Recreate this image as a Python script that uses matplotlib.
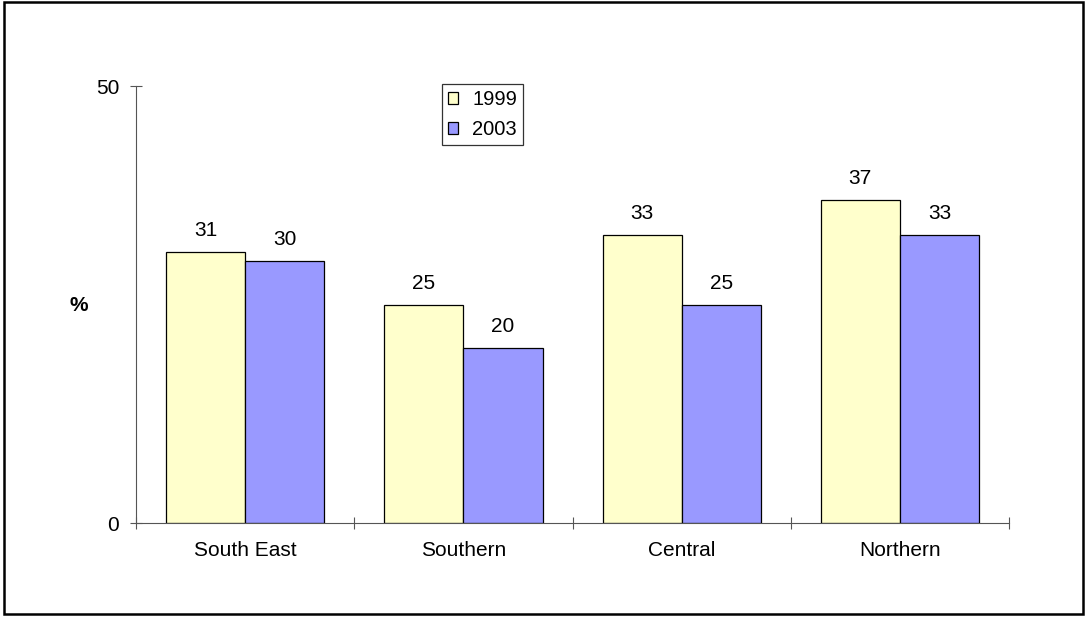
import matplotlib.pyplot as plt
from matplotlib.patches import Rectangle
import numpy as np

plt.rcParams['font.family'] = ['Liberation Sans', 'DejaVu Sans']

regions = ['South East', 'Southern', 'Central', 'Northern']
years = ['1999', '2003']
vals_1999 = [31, 25, 33, 37]
vals_2003 = [30, 20, 25, 33]

FS = 15

fig = plt.figure(figsize=(10.9, 6.18), dpi=100)
# outer frame round the whole chart
fig.patches.append(Rectangle((0.004, 0.006), 0.99, 0.99, transform=fig.transFigure,
                             fill=False, edgecolor='black', linewidth=1.8))

ax = fig.add_axes([0.1248, 0.1537, 0.8009, 0.7071])
x = np.arange(len(regions))
w = 0.3625
b1 = ax.bar(x - w/2, vals_1999, w, color='#FFFFCC', edgecolor='black', linewidth=0.9, label=years[0])
b2 = ax.bar(x + w/2, vals_2003, w, color='#9999FF', edgecolor='black', linewidth=0.9, label=years[1])

for bars, vals in ((b1, vals_1999), (b2, vals_2003)):
    for r, v in zip(bars, vals):
        ax.annotate(str(v), (r.get_x() + r.get_width()/2, v), xytext=(0, 8.5),
                    textcoords='offset points', ha='center', va='bottom', fontsize=FS)

ax.set_xlim(-0.5, 3.5)
ax.set_ylim(0, 50)
ax.set_yticks([0, 50])
ax.set_xticks(np.arange(-0.5, 4, 1), minor=False)
ax.set_xticklabels([])
ax.set_xticks(x, minor=True)
ax.set_xticklabels(regions, minor=True, fontsize=FS)
ax.tick_params(axis='x', which='minor', length=0, pad=13)
ax.tick_params(axis='x', which='major', direction='inout', length=8, color='#555555')
ax.tick_params(axis='y', direction='inout', length=8, labelsize=FS, pad=8, color='#555555')

for s in ['top', 'right']:
    ax.spines[s].set_visible(False)
ax.spines['left'].set_color('#555555')
ax.spines['bottom'].set_color('#555555')

ax.text(-0.066, 0.498, '%', transform=ax.transAxes, ha='center', va='center',
        fontsize=FS, fontweight='bold')

leg = ax.legend(loc='upper left', bbox_to_anchor=(0.3505, 1.0046), frameon=True, fancybox=False,
                edgecolor='black', fontsize=14.5, handlelength=0.5, handleheight=0.5,
                handletextpad=0.7, borderpad=0.3, labelspacing=0.55, borderaxespad=0)
leg.get_frame().set_linewidth(0.9)

fig.savefig('out.png', dpi=100)
